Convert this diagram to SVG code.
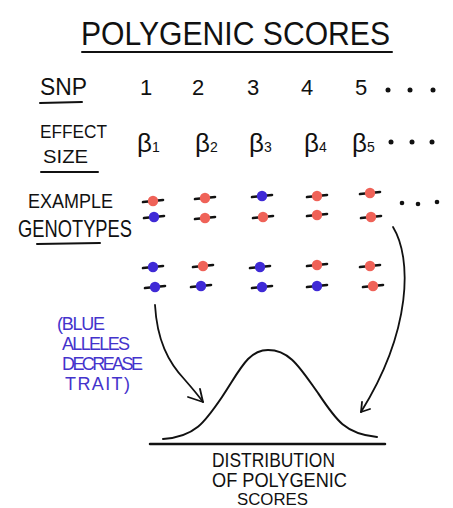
<svg xmlns="http://www.w3.org/2000/svg" xmlns:xlink="http://www.w3.org/1999/xlink" width="453" height="508" viewBox="0 0 453 508">
<style>
  .hand { font-family: "Liberation Sans", "DejaVu Sans", sans-serif; fill: #111; }
  .blue { fill: #4433cc; }
  .ink { stroke: #111; fill: none; stroke-linecap: round; stroke-linejoin: round; }
  .dot { fill: #111; }
</style>
<defs>
  <g id="al-r">
    <path d="M-10,1 L10,-1" stroke="#111" stroke-width="2.6" stroke-linecap="round"/>
    <circle cx="0" cy="0" r="5.2" fill="#ef6258"/>
  </g>
  <g id="al-b">
    <path d="M-10,1 L10,-1" stroke="#111" stroke-width="2.6" stroke-linecap="round"/>
    <circle cx="0" cy="0" r="5.2" fill="#3f2ad6"/>
  </g>
</defs>
<rect width="453" height="508" fill="#fff"/>

<g id="title">
  <text class="hand" x="81" y="45" font-size="34" textLength="309" lengthAdjust="spacingAndGlyphs">POLYGENIC SCORES</text>
  <path class="ink" d="M82,52 L392,52" stroke-width="2"/>
</g>

<g id="snp-row">
  <text class="hand" x="40" y="95" font-size="23" textLength="47" lengthAdjust="spacingAndGlyphs">SNP</text>
  <path class="ink" d="M40,103 L82,102" stroke-width="2"/>
  <text class="hand" x="140" y="95" font-size="22">1</text>
  <text class="hand" x="192" y="95" font-size="22">2</text>
  <text class="hand" x="247" y="95" font-size="22">3</text>
  <text class="hand" x="301" y="95" font-size="22">4</text>
  <text class="hand" x="355" y="95" font-size="22">5</text>
  <circle class="dot" cx="388" cy="90" r="2.5"/>
  <circle class="dot" cx="410" cy="90" r="2.5"/>
  <circle class="dot" cx="433" cy="90" r="2.5"/>
</g>

<g id="effect-row">
  <text class="hand" x="40" y="138" font-size="18" textLength="67" lengthAdjust="spacingAndGlyphs">EFFECT</text>
  <text class="hand" x="43" y="163" font-size="18" textLength="45" lengthAdjust="spacingAndGlyphs">SIZE</text>
  <path class="ink" d="M41,172 L98,172" stroke-width="2"/>
  <text class="hand" x="137" y="152" font-size="26">β<tspan font-size="14">1</tspan></text>
  <text class="hand" x="195" y="152" font-size="26">β<tspan font-size="14">2</tspan></text>
  <text class="hand" x="249" y="152" font-size="26">β<tspan font-size="14">3</tspan></text>
  <text class="hand" x="304" y="152" font-size="26">β<tspan font-size="14">4</tspan></text>
  <text class="hand" x="352" y="152" font-size="26">β<tspan font-size="14">5</tspan></text>
  <circle class="dot" cx="391" cy="142" r="2.5"/>
  <circle class="dot" cx="412" cy="142" r="2.5"/>
  <circle class="dot" cx="432" cy="142" r="2.5"/>
</g>

<g id="genotypes">
  <text class="hand" x="28" y="208" font-size="20" textLength="85" lengthAdjust="spacingAndGlyphs">EXAMPLE</text>
  <text class="hand" x="18" y="237" font-size="24" textLength="114" lengthAdjust="spacingAndGlyphs">GENOTYPES</text>
  <path class="ink" d="M37,244 L100,243" stroke-width="2"/>
  <use xlink:href="#al-r" x="153" y="201"/>
  <use xlink:href="#al-b" x="154" y="217"/>
  <use xlink:href="#al-r" x="205" y="198"/>
  <use xlink:href="#al-r" x="205" y="218"/>
  <use xlink:href="#al-b" x="262" y="196"/>
  <use xlink:href="#al-r" x="263" y="217"/>
  <use xlink:href="#al-r" x="317" y="196"/>
  <use xlink:href="#al-r" x="317" y="215"/>
  <use xlink:href="#al-r" x="370" y="193"/>
  <use xlink:href="#al-r" x="371" y="217"/>
  <circle class="dot" cx="402" cy="203" r="2.3"/>
  <circle class="dot" cx="418" cy="204" r="2.3"/>
  <circle class="dot" cx="437" cy="202" r="2.3"/>
  <use xlink:href="#al-b" x="153" y="267"/>
  <use xlink:href="#al-b" x="155" y="287"/>
  <use xlink:href="#al-r" x="203" y="266"/>
  <use xlink:href="#al-b" x="201" y="286"/>
  <use xlink:href="#al-b" x="260" y="267"/>
  <use xlink:href="#al-b" x="262" y="287"/>
  <use xlink:href="#al-r" x="317" y="265"/>
  <use xlink:href="#al-b" x="317" y="286"/>
  <use xlink:href="#al-r" x="370" y="266"/>
  <use xlink:href="#al-r" x="373" y="286"/>
</g>

<g id="note">
  <text class="hand blue" x="57" y="330" font-size="18" textLength="48" lengthAdjust="spacing">(BLUE</text>
  <text class="hand blue" x="62" y="350" font-size="18" textLength="68" lengthAdjust="spacing">ALLELES</text>
  <text class="hand blue" x="62" y="370" font-size="18" textLength="81" lengthAdjust="spacing">DECREASE</text>
  <text class="hand blue" x="65" y="390" font-size="18" textLength="65" lengthAdjust="spacing">TRAIT)</text>
</g>

<g id="distribution">
  <path class="ink" d="M163,439 C195,437 205,422 222,397 C240,370 248,350 268,350 C290,350 300,368 318,393 C336,420 345,434 377,437" stroke-width="2"/>
  <path class="ink" d="M150,444 L385,444" stroke-width="2.5"/>
  <text class="hand" x="212" y="467" font-size="20" textLength="123" lengthAdjust="spacingAndGlyphs">DISTRIBUTION</text>
  <text class="hand" x="212" y="487" font-size="20" textLength="135" lengthAdjust="spacingAndGlyphs">OF POLYGENIC</text>
  <text class="hand" x="237" y="505" font-size="16" textLength="71" lengthAdjust="spacingAndGlyphs">SCORES</text>
</g>

<g id="connectors">
  <path class="ink" d="M155,305 C157,340 168,362 185,380 C192,388 198,395 203,402" stroke-width="1.8"/>
  <path class="ink" d="M188,397 L203,402 L200,389" stroke-width="1.8"/>
  <path class="ink" d="M393,227 C412,258 412,330 361,412" stroke-width="1.8"/>
  <path class="ink" d="M362,402 L361,412 L370,409" stroke-width="1.8"/>
</g>
</svg>
